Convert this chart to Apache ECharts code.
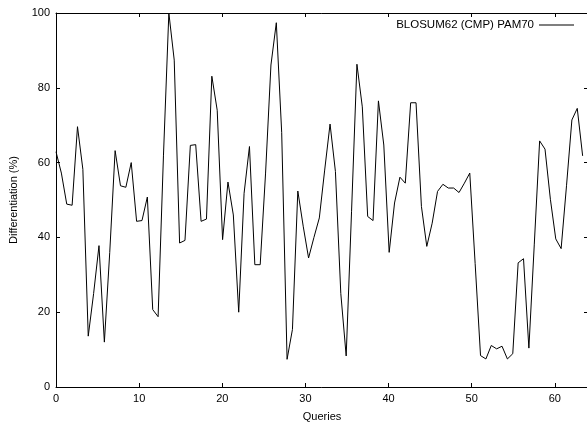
<!DOCTYPE html>
<html>
<head>
<meta charset="utf-8">
<script src="https://cdn.jsdelivr.net/npm/echarts@6/dist/echarts.min.js"></script>
<style>
html,body{margin:0;padding:0;background:#fff;}
#chart{width:587px;height:425px;}
</style>
</head>
<body>
<div id="chart"></div>
<script>
// Series: BLOSUM62 (CMP) PAM70 — differentiation (%) per query sample
const seriesName = "BLOSUM62 (CMP) PAM70";
const differentiation = [
  62.9, 57.2, 48.9, 48.6, 69.6, 58.2, 13.6, 25.0, 37.8, 12.0,
  36.0, 63.2, 53.8, 53.4, 60.0, 44.3, 44.5, 50.8, 20.7, 18.8,
  62.0, 100.0, 87.4, 38.5, 39.2, 64.6, 64.8, 44.3, 44.9, 83.1,
  74.0, 39.4, 54.8, 46.0, 20.0, 51.8, 64.3, 32.7, 32.7, 57.2,
  86.1, 97.4, 68.0, 7.4, 15.4, 52.4, 43.0, 34.5, 40.0, 45.2,
  58.0, 70.3, 57.6, 25.0, 8.3, 47.0, 86.3, 74.9, 45.6, 44.5,
  76.5, 64.7, 36.0, 49.2, 56.1, 54.5, 76.0, 76.0, 48.3, 37.6,
  43.8, 52.3, 54.2, 53.2, 53.2, 52.0, 54.5, 57.2, 33.0, 8.4,
  7.5, 11.1, 10.2, 10.9, 7.5, 8.9, 33.2, 34.3, 10.4, 38.0,
  65.8, 63.6, 50.2, 39.6, 37.0, 53.8, 71.4, 74.5, 61.8
];
// Queries axis: samples are spread evenly over [0, 64)
const xMin = 0, xMax = 64, xInterval = 10;
const yMin = 0, yMax = 100, yInterval = 20;
const xName = "Queries";
const yName = "Differentiation (%)";

const xStep = xMax / differentiation.length;
const points = differentiation.map((v, i) => [i * xStep, v]);

const FONT = "'Liberation Sans', Arial, Helvetica, sans-serif";
const chart = echarts.init(document.getElementById('chart'), null, {renderer: 'canvas'});
const tickCommon = {show: true, inside: true, length: 4, lineStyle: {color: '#000', width: 1}};
const lineCommon = {show: true, onZero: false, lineStyle: {color: '#000', width: 1}};
chart.setOption({
  animation: false,
  backgroundColor: '#fff',
  textStyle: {fontFamily: FONT},
  grid: {left: 56, top: 13, width: 532, height: 374, containLabel: false, outerBoundsMode: 'none'},
  legend: {
    data: [{name: seriesName, icon: 'rect'}],
    right: 13, top: 19, padding: 0,
    align: 'right',
    itemWidth: 35, itemHeight: 1,
    itemStyle: {color: '#000'},
    textStyle: {fontFamily: FONT, fontSize: 11.5, color: '#000'}
  },
  xAxis: [
    {
      type: 'value', min: xMin, max: xMax, interval: xInterval, position: 'bottom',
      name: xName, nameLocation: 'middle', nameGap: 24,
      nameTextStyle: {fontFamily: FONT, fontSize: 11, color: '#000'},
      axisLine: lineCommon, axisTick: tickCommon, splitLine: {show: false},
      axisLabel: {fontFamily: FONT, fontSize: 11, color: '#000', margin: 6,
        showMaxLabel: false}
    },
    {
      type: 'value', min: xMin, max: xMax, interval: xInterval, position: 'top',
      axisLine: lineCommon, axisTick: tickCommon, splitLine: {show: false},
      axisLabel: {show: false}
    }
  ],
  yAxis: [
    {
      type: 'value', min: yMin, max: yMax, interval: yInterval, position: 'left',
      name: yName, nameLocation: 'middle', nameGap: 37, nameRotate: 90,
      nameTextStyle: {fontFamily: FONT, fontSize: 11, color: '#000'},
      axisLine: lineCommon, axisTick: tickCommon, splitLine: {show: false},
      axisLabel: {fontFamily: FONT, fontSize: 11, color: '#000', margin: 6}
    },
    {
      type: 'value', min: yMin, max: yMax, interval: yInterval, position: 'right',
      axisLine: lineCommon, axisTick: tickCommon, splitLine: {show: false},
      axisLabel: {show: false}
    }
  ],
  series: [{
    name: seriesName,
    type: 'line',
    xAxisIndex: 0, yAxisIndex: 0,
    data: points,
    symbol: 'none',
    showSymbol: false,
    color: '#000',
    lineStyle: {color: '#000', width: 1},
    itemStyle: {color: '#000'},
    clip: true
  }]
});
</script>
</body>
</html>
